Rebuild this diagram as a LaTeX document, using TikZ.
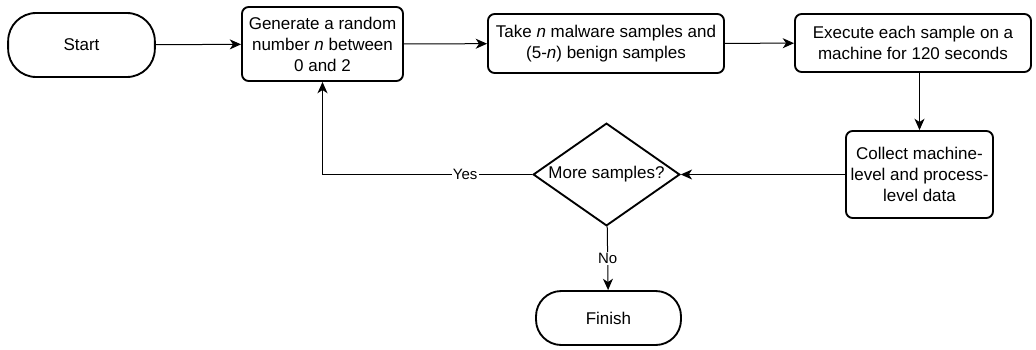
\documentclass[tikz,border=0pt]{standalone}
\usepackage{fontspec}
\setmainfont{Liberation Sans}
\usetikzlibrary{shapes.geometric, arrows.meta}

\begin{document}
\begin{tikzpicture}[x=0.75pt, y=-0.75pt]
			\tikzset{boite/.style={rectangle, rounded corners=5pt, draw=black, line width=1.4pt, align=center, inner sep=1pt, font=\fontsize{12.75}{15.75}\selectfont},
			terminal/.style={boite, rounded corners=21pt},
			decision/.style={diamond, draw=black, line width=1.4pt, inner sep=0pt, minimum width=110pt, minimum height=77pt},
			etiquette/.style={fill=white, inner sep=1pt, font=\fontsize{11.25}{13}\selectfont},
			fleche/.style={>={Stealth[length=8.5pt, width=7.5pt, inset=2.5pt]}, ->, line width=0.75pt}};

			\useasboundingbox (0,0) rectangle (1036,350);

			\node[terminal, minimum width=110pt, minimum height=48pt] (start) at ( 81.5,  45) {Start};
			\node[boite, minimum width=120.75pt, minimum height=55.5pt] (gen) at (322.5,  44) {Generate a random\\number \textit{n} between\\0 and 2};
			\node[boite, minimum width=177pt, minimum height=44.25pt] (take) at (606, 43.5) {Take \textit{n} malware samples and\\(5-\textit{n}) benign samples};
			\node[boite, minimum width=177pt, minimum height=43.5pt] (exec) at (913,  43) {Execute each sample on a\\machine for 120 seconds};
			\node[boite, minimum width=110.25pt, minimum height=65.25pt] (collect) at (919.5, 174.5) {Collect machine-\\level and process-\\level data};
			\node[decision, label={[font=\fontsize{12.75}{15.75}\selectfont]center:More samples?}] (plus) at (606.5, 174.5) {};
			\node[terminal, minimum width=108.75pt, minimum height=40.5pt, rounded corners=19pt] (fin) at (608.5, 318) {Finish};

			\draw[fleche] (start) -- (gen);
			\draw[fleche] (gen) -- (take);
			\draw[fleche] (take) -- (exec);
			\draw[fleche] (collect.north |- exec.south) -- (collect.north);
			\draw[fleche] (collect) -- (plus);
			\draw[fleche] (plus.west) -| node[etiquette, pos=0.16] {Yes} (gen.south);
			\draw[fleche] (plus) -- node[etiquette] {No} (fin);
		\end{tikzpicture}
\end{document}
